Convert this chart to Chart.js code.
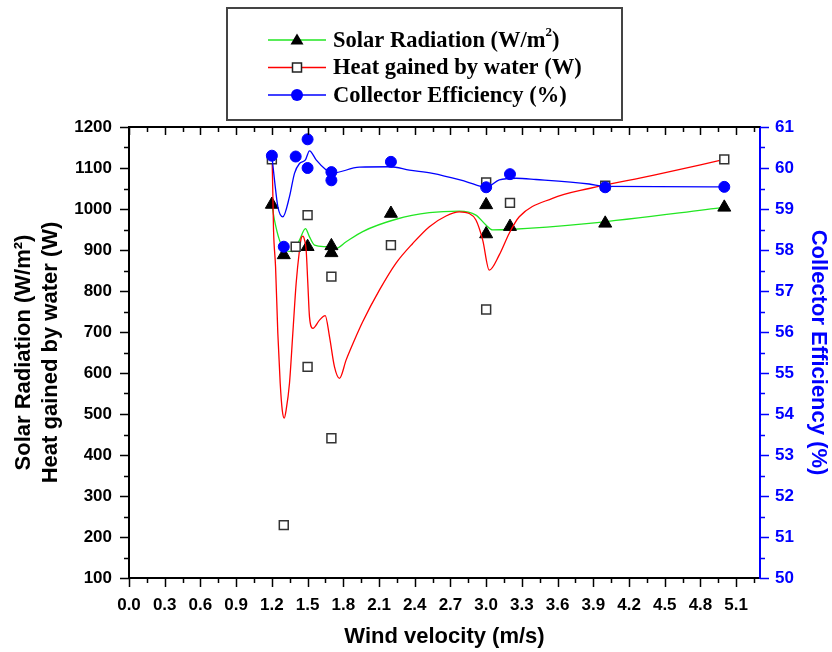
<!DOCTYPE html>
<html>
<head>
<meta charset="utf-8">
<script src="https://cdn.jsdelivr.net/npm/chart.js@4.4.1/dist/chart.umd.min.js"></script>
<style>
  html, body { margin: 0; padding: 0; background: #fff; }
  #wrap { width: 832px; height: 652px; position: relative; }
</style>
</head>
<body>
<div id="wrap"><canvas id="chart"></canvas></div>
<script>
const solarX = [1.2, 1.3, 1.5, 1.7, 1.7, 2.2, 3.0, 3.0, 3.2, 4.0, 5.0];
const solarY = [1011, 888, 908, 910, 893, 989, 1010, 939, 957, 965, 1004];

const heatX = [1.2, 1.3, 1.4, 1.5, 1.5, 1.7, 1.7, 2.2, 3.0, 3.0, 3.2, 4.0, 5.0];
const heatY = [1121, 229, 908, 985, 615, 835, 441, 912, 1065, 755, 1015, 1057, 1121];

const effX = [1.2, 1.3, 1.4, 1.5, 1.5, 1.7, 1.7, 2.2, 3.0, 3.2, 4.0, 5.0];
const effY = [60.30, 58.08, 60.28, 60.70, 60.00, 59.90, 59.70, 60.15, 59.53, 59.85, 59.53, 59.54];

// smoothed curves as drawn in the figure (sampled by eye)
const solarCurveX = [1.2, 1.222, 1.264, 1.306, 1.376, 1.432, 1.482, 1.516, 1.558, 1.656, 1.74, 1.824, 1.963, 2.243, 2.523, 2.774, 2.914, 2.998, 3.054, 3.194, 3.865, 5.0];
const solarCurveY = [1011, 973, 924, 900, 896, 924, 952, 932, 912, 908, 904, 920, 945, 975, 991, 995, 985, 961, 949, 950, 965, 1004];

const heatCurveX = [1.2, 1.203, 1.214, 1.231, 1.25, 1.27, 1.287, 1.304, 1.32, 1.348, 1.376, 1.404, 1.432, 1.446, 1.46, 1.474, 1.488, 1.502, 1.516, 1.544, 1.6, 1.648, 1.684, 1.726, 1.768, 1.824, 1.893, 1.963, 2.103, 2.243, 2.383, 2.523, 2.663, 2.774, 2.858, 2.914, 2.971, 3.026, 3.11, 3.194, 3.278, 3.557, 3.865, 4.4, 5.0];
const heatCurveY = [1121, 1111, 949, 859, 697, 575, 510, 490, 510, 575, 697, 819, 900, 928, 934, 925, 900, 819, 737, 709, 729, 740, 689, 615, 587, 632, 680, 725, 802, 868, 916, 957, 983, 993, 989, 973, 924, 851, 888, 941, 981, 1026, 1050, 1082, 1121];

const effCurveX = [1.2, 1.222, 1.25, 1.292, 1.348, 1.39, 1.432, 1.482, 1.516, 1.572, 1.656, 1.698, 1.935, 2.195, 2.355, 2.55, 2.83, 3.0, 3.11, 3.25, 3.418, 3.865, 4.0, 5.0];
const effCurveY = [60.30, 59.71, 59.06, 58.81, 59.30, 59.87, 60.11, 60.20, 60.42, 60.20, 59.95, 59.87, 60.02, 60.03, 59.95, 59.87, 59.67, 59.53, 59.71, 59.75, 59.72, 59.61, 59.55, 59.54];

const legendLabels = ["Solar Radiation (W/m²)", "Heat gained by water (W)", "Collector Efficiency (%)"];

const GREEN = "#22e622";
const RED = "#ff0000";
const BLUE = "#0000ff";

const pts = (xs, ys) => xs.map((x, i) => ({ x: x, y: ys[i] }));

// minor ticks, top frame line and ticks
const frameTicks = {
  id: "frameTicks",
  afterDraw(chart) {
    const { ctx, chartArea: a } = chart;
    const x = chart.scales.x, y = chart.scales.y, y1 = chart.scales.y1;
    ctx.save();
    ctx.strokeStyle = "#000";
    ctx.lineWidth = 2;
    ctx.beginPath();
    ctx.moveTo(a.left, a.top);
    ctx.lineTo(a.right, a.top);
    ctx.stroke();

    ctx.lineWidth = 1.5;
    ctx.beginPath();
    for (let i = 0; i <= 35; i++) {
      const px = Math.round(x.getPixelForValue(i * 0.15)) + 0.5;
      if (px > a.right - 2) break;
      const major = i % 2 === 0;
      ctx.moveTo(px, a.bottom);
      ctx.lineTo(px, a.bottom + (major ? 9 : 5));
      ctx.moveTo(px, a.top);
      ctx.lineTo(px, a.top + (major ? 8 : 5));
    }
    for (let i = 0; i <= 22; i++) {
      const py = Math.round(y.getPixelForValue(100 + i * 50)) + 0.5;
      ctx.moveTo(a.left, py);
      ctx.lineTo(a.left - (i % 2 === 0 ? 9 : 5), py);
    }
    ctx.stroke();

    ctx.strokeStyle = BLUE;
    ctx.beginPath();
    for (let i = 0; i <= 22; i++) {
      const py = Math.round(y1.getPixelForValue(50 + i * 0.5)) + 0.5;
      ctx.moveTo(a.right, py);
      ctx.lineTo(a.right + (i % 2 === 0 ? 9 : 5), py);
    }
    ctx.stroke();
    ctx.restore();
  }
};

function drawMarker(ctx, kind, cx, cy) {
  ctx.beginPath();
  if (kind === 0) {
    ctx.fillStyle = "#000";
    ctx.moveTo(cx, cy - 6.5);
    ctx.lineTo(cx + 6.5, cy + 4.5);
    ctx.lineTo(cx - 6.5, cy + 4.5);
    ctx.closePath();
    ctx.fill();
  } else if (kind === 1) {
    ctx.fillStyle = "#fff";
    ctx.strokeStyle = "#222";
    ctx.lineWidth = 1.5;
    ctx.rect(cx - 4.5, cy - 4.5, 9, 9);
    ctx.fill();
    ctx.stroke();
  } else {
    ctx.fillStyle = BLUE;
    ctx.arc(cx, cy, 6, 0, Math.PI * 2);
    ctx.fill();
  }
}

const boxLegend = {
  id: "boxLegend",
  afterDraw(chart) {
    const ctx = chart.ctx;
    const colors = [GREEN, RED, BLUE];
    ctx.save();
    ctx.fillStyle = "#fff";
    ctx.fillRect(227, 8, 395, 112);
    ctx.strokeStyle = "#444";
    ctx.lineWidth = 2;
    ctx.strokeRect(227, 8, 395, 112);

    legendLabels.forEach((label, i) => {
      const cy = 40 + i * 27.5;
      ctx.strokeStyle = colors[i];
      ctx.lineWidth = 1.5;
      ctx.beginPath();
      ctx.moveTo(268, cy);
      ctx.lineTo(326, cy);
      ctx.stroke();
      drawMarker(ctx, i, 297, cy);

      ctx.fillStyle = "#000";
      ctx.textBaseline = "middle";
      ctx.textAlign = "left";
      let tx = 333;
      const parts = label.split("²");
      parts.forEach((p, k) => {
        ctx.font = "bold 22.5px 'Liberation Serif', 'Times New Roman', serif";
        ctx.fillText(p, tx, cy + 1);
        tx += ctx.measureText(p).width;
        if (k < parts.length - 1) {
          ctx.font = "bold 13px 'Liberation Serif', 'Times New Roman', serif";
          ctx.fillText("2", tx, cy - 7);
          tx += ctx.measureText("2").width;
        }
      });
    });
    ctx.restore();
  }
};

const tickFont = { family: "'Liberation Sans', Arial, sans-serif", weight: "bold", size: 17 };
const titleFont = { family: "'Liberation Sans', Arial, sans-serif", weight: "bold", size: 22 };

new Chart(document.getElementById("chart"), {
  type: "scatter",
  data: {
    datasets: [
      {
        label: legendLabels[2], data: pts(effX, effY), yAxisID: "y1", order: 0,
        pointStyle: "circle", pointRadius: 5.5, backgroundColor: BLUE, borderColor: BLUE, borderWidth: 1
      },
      {
        label: "eff curve", data: pts(effCurveX, effCurveY), yAxisID: "y1", order: 1,
        showLine: true, pointRadius: 0, borderColor: BLUE, borderWidth: 1.3,
        cubicInterpolationMode: "monotone", tension: 0.4
      },
      {
        label: legendLabels[1], data: pts(heatX, heatY), yAxisID: "y", order: 2,
        pointStyle: "rect", pointRadius: 6.3, backgroundColor: "#fff", borderColor: "#333", borderWidth: 1.5
      },
      {
        label: "heat curve", data: pts(heatCurveX, heatCurveY), yAxisID: "y", order: 3,
        showLine: true, pointRadius: 0, borderColor: RED, borderWidth: 1.3,
        cubicInterpolationMode: "monotone", tension: 0.4
      },
      {
        label: legendLabels[0], data: pts(solarX, solarY), yAxisID: "y", order: 4,
        pointStyle: "triangle", pointRadius: 7.5, backgroundColor: "#000", borderColor: "#000", borderWidth: 1
      },
      {
        label: "solar curve", data: pts(solarCurveX, solarCurveY), yAxisID: "y", order: 5,
        showLine: true, pointRadius: 0, borderColor: GREEN, borderWidth: 1.3,
        cubicInterpolationMode: "monotone", tension: 0.4
      }
    ]
  },
  options: {
    responsive: true,
    maintainAspectRatio: false,
    animation: false,
    devicePixelRatio: 1,
    layout: { padding: { top: 127, left: 0, right: 0, bottom: 0 } },
    plugins: {
      legend: { display: false },
      tooltip: { enabled: false }
    },
    scales: {
      x: {
        type: "linear",
        min: 0, max: 5.3,
        afterFit: s => { s.height = 74; },
        grid: { display: false },
        border: { display: true, color: "#000", width: 2 },
        ticks: {
          stepSize: 0.3, includeBounds: false, padding: 9, color: "#000", font: tickFont,
          maxRotation: 0, autoSkip: false,
          callback: v => Number(v).toFixed(1)
        },
        title: {
          display: true, text: "Wind velocity (m/s)", color: "#000",
          font: { family: "'Liberation Sans', Arial, sans-serif", weight: "bold", size: 22 },
          padding: { top: 0, bottom: 2 }
        }
      },
      y: {
        type: "linear", position: "left",
        min: 100, max: 1200,
        afterFit: s => { s.width = 129; },
        grid: { display: false },
        border: { display: true, color: "#000", width: 2 },
        ticks: { stepSize: 100, padding: 9, color: "#000", font: tickFont, callback: v => String(v) },
        title: {
          display: true, text: ["Solar Radiation (W/m²)", "Heat gained by water (W)"],
          color: "#000", font: titleFont, padding: { top: 11, bottom: 0 }
        }
      },
      y1: {
        type: "linear", position: "right",
        min: 50, max: 61,
        afterFit: s => { s.width = 72; },
        grid: { display: false },
        border: { display: true, color: BLUE, width: 2 },
        ticks: { stepSize: 1, padding: 7, color: BLUE, font: tickFont, callback: v => String(v) },
        title: {
          display: true, text: "Collector Efficiency (%)", color: BLUE,
          font: { family: "'Liberation Sans', Arial, sans-serif", weight: "bold", size: 22 },
          padding: { top: 1, bottom: 0 }
        }
      }
    }
  },
  plugins: [frameTicks, boxLegend]
});
</script>
</body>
</html>
